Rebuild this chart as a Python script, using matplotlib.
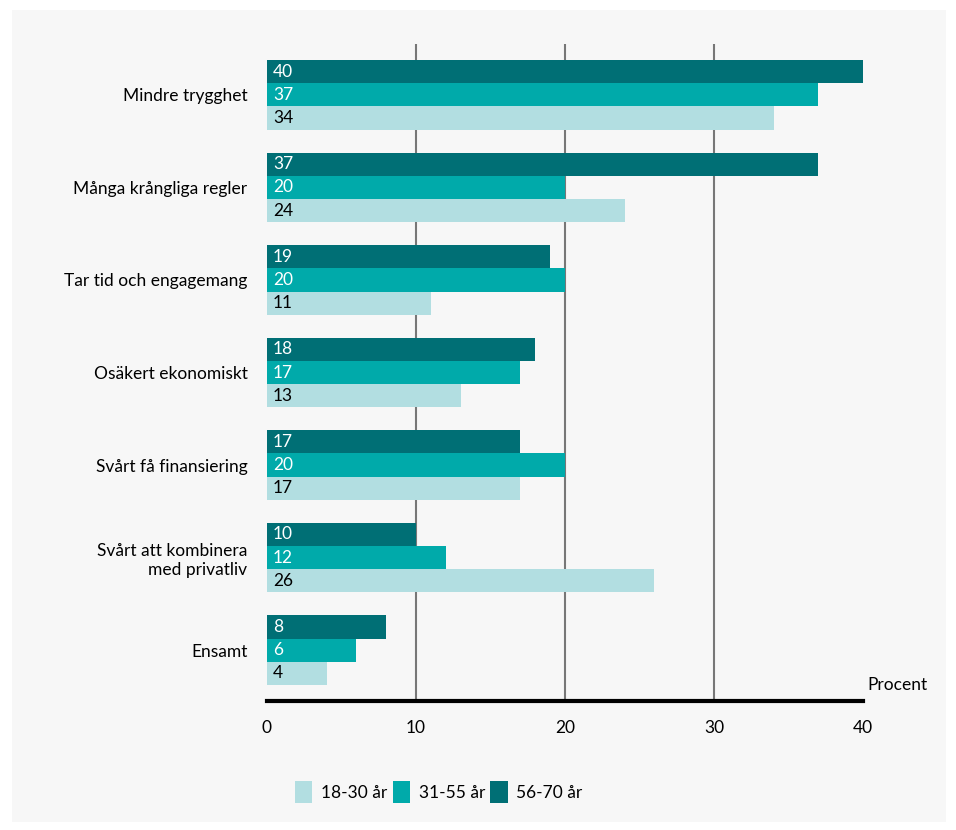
import matplotlib
matplotlib.use("Agg")
import matplotlib.pyplot as plt
from matplotlib.patches import Patch, Rectangle
import numpy as np

plt.rcParams['font.family'] = ['Lato', 'DejaVu Sans']

categories = ["Mindre trygghet", "Många krångliga regler", "Tar tid och engagemang",
              "Osäkert ekonomiskt", "Svårt få finansiering",
              "Svårt att kombinera\nmed privatliv", "Ensamt"]
age_56_70 = [40, 37, 19, 18, 17, 10, 8]
age_31_55 = [37, 20, 20, 17, 20, 12, 6]
age_18_30 = [34, 24, 11, 13, 17, 26, 4]
series_names = ["18-30 år", "31-55 år", "56-70 år"]
xticks = [0, 10, 20, 30, 40]

dark = "#006f75"
mid = "#00aaaa"
light = "#b2dee1"
bg = "#f7f7f7"

fig = plt.figure(figsize=(9.56, 8.3), dpi=100)
fig.patch.set_facecolor("white")
# grey panel behind everything
fig.patches.append(Rectangle((12/956, 1-822/830), 934/956, 812/830,
                             transform=fig.transFigure, facecolor=bg,
                             edgecolor="none", zorder=-10))

ax = fig.add_axes([267/956, 1-701/830, 596/956, 657/830])
ax.patch.set_alpha(0)

y = np.arange(len(categories))
h = 0.25
rows = [(age_56_70, dark, "white", -h), (age_31_55, mid, "white", 0), (age_18_30, light, "black", h)]
for vals, col, tcol, off in rows:
    ax.barh(y + off, vals, height=h, color=col, zorder=3)
    for yi, v in zip(y, vals):
        ax.text(0.4, yi + off, str(v), color=tcol, va="center", ha="left",
                fontsize=12.5, zorder=4)

for xv in [10, 20, 30]:
    ax.axvline(xv, color="#777777", lw=1.5, zorder=1)

ax.set_xlim(0, 40)
ax.set_ylim(len(categories) - 1 + 0.55, -0.55)
ax.set_yticks(y)
ax.set_yticklabels(categories, fontsize=12.5)
ax.set_xticks(xticks)
ax.set_xticklabels([str(t) for t in xticks], fontsize=12.5)
ax.tick_params(length=0)
ax.tick_params(axis="y", pad=14)
ax.tick_params(axis="x", pad=14)
for s in ["top", "right", "left"]:
    ax.spines[s].set_visible(False)
ax.spines["bottom"].set_linewidth(3)
ax.spines["bottom"].set_color("black")
ax.spines["bottom"].set_zorder(5)

ax.text(1.008, 0.012, "Procent", transform=ax.transAxes, fontsize=12.5,
        ha="left", va="bottom")

handles = [Patch(facecolor=light), Patch(facecolor=mid), Patch(facecolor=dark)]
fig.legend(handles, series_names, loc="center", bbox_to_anchor=(0.459, 0.046),
           ncol=3, frameon=False, fontsize=12.5, handlelength=1.0,
           handleheight=1.6, columnspacing=0.3, handletextpad=0.5)

fig.savefig("out.png", dpi=100, facecolor=fig.get_facecolor())
